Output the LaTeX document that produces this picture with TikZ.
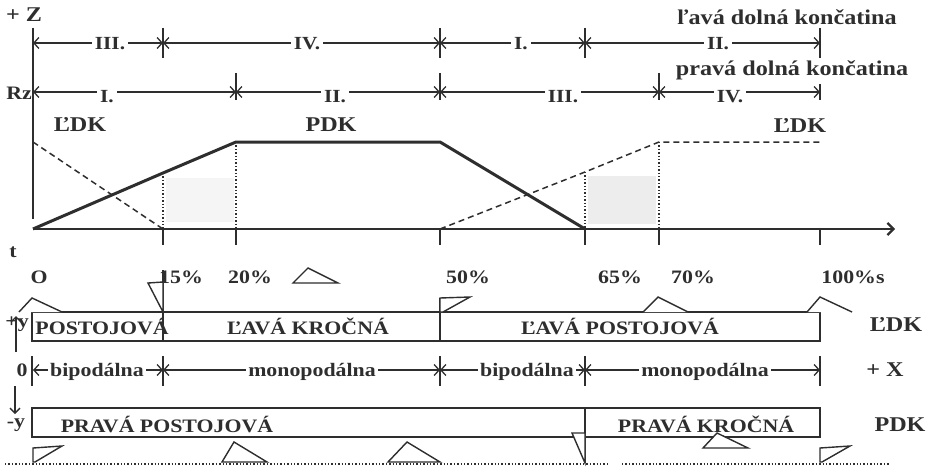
\documentclass[tikz,border=0pt]{standalone}
\usepackage{fontspec}
\setmainfont{Liberation Serif}[FakeStretch=1.15]
\usetikzlibrary{arrows.meta}
\definecolor{ink}{HTML}{2E2E2E}
\newcommand{\fbig}{\bfseries\fontsize{21}{23}\selectfont}
\newcommand{\fmid}{\bfseries\fontsize{19}{21}\selectfont}
\newcommand{\fnum}{\bfseries\fontsize{18.5}{20}\selectfont}
\begin{document}
\begin{tikzpicture}[x=1pt,y=-1pt,
  ink,
  barb/.tip={Straight Barb[length=5pt,width=11pt,line width=1.3pt]},
  axisline/.style={draw=ink, line width=2.2pt},
  graphline/.style={draw=ink, line width=3pt, line join=round},
  dashline/.style={draw=ink, line width=1.5pt, dash pattern=on 6pt off 4pt},
  dotline/.style={draw=ink, line width=1.4pt, dotted},
  dimline/.style={draw=ink, line width=1.4pt, barb-barb},
  tickline/.style={draw=ink, line width=1.4pt},
  lbl/.style={text=ink, inner sep=0pt, font=\fbig},
  pct/.style={text=ink, inner sep=0pt, font=\fmid},
  numlbl/.style={text=ink, fill=white, inner sep=3pt, font=\fnum},
  barlbl/.style={text=ink, inner sep=0pt, font=\fmid},
  phase/.style={text=ink, fill=white, inner sep=2pt, font=\fmid},
  bar/.style={draw=ink, line width=1.4pt},
  foot/.style={draw=ink, line width=1.4pt, fill=white, line join=miter},
  shade/.style={fill=black!4, draw=none}
]
\useasboundingbox (0,0) rectangle (933,468);

% ---------------- coordinates ----------------
\coordinate (ZT) at (33,28);
\coordinate (ZB) at (33,219);
\coordinate (O) at (33,229);
\coordinate (AE) at (895,229);
\coordinate (P1) at (163,173);
\coordinate (P2) at (236,142);
\coordinate (P3) at (440,142);
\coordinate (P4) at (585,229);
\coordinate (D0) at (33,142);
\coordinate (D1) at (163,229);
\coordinate (D2) at (440,229);
\coordinate (D3) at (585,172);
\coordinate (D4) at (659,142);
\coordinate (D5) at (820,142);

% ---------------- shaded stipple areas ----------------
\fill[shade] (166,178) rectangle (234,222);
\fill[black!7] (588,176) rectangle (656,224);

% ---------------- graph ----------------
\draw[axisline] (ZT) -- (ZB);
\draw[axisline, -{Straight Barb[length=6pt,width=12pt]}] (O) -- (AE);
\foreach \x in {163,236,440,585,659,820}
  \draw[tickline, line width=1.8pt] (\x,229) -- (\x,245);
\draw[graphline] (O) -- (P1) -- (P2) -- (P3) -- (P4);
\draw[dashline] (D0) -- (D1);
\draw[dashline] (D2) -- (D3) -- (D4) -- (D5);
\draw[dotline] (P1) -- (D1);
\draw[dotline] (P2) -- (236,229);
\draw[dotline] (D3) -- (P4);
\draw[dotline] (D4) -- (659,229);

% ---------------- phase rows (top) ----------------
\coordinate (r1a) at (33,43);
\coordinate (r1b) at (163,43);
\coordinate (r1c) at (440,43);
\coordinate (r1d) at (585,43);
\coordinate (r1e) at (820,43);
\foreach \x in {163,440,585,820} \draw[tickline] (\x,28) -- (\x,58);
\draw[dimline] (r1a) -- (r1b);
\draw[dimline] (r1b) -- (r1c);
\draw[dimline] (r1c) -- (r1d);
\draw[dimline] (r1d) -- (r1e);
\node[numlbl] (n1) at (110,44) {III.};
\node[numlbl] (n2) at (307,44) {IV.};
\node[numlbl] (n3) at (521,44) {I.};
\node[numlbl] (n4) at (718,44) {II.};

\coordinate (r2a) at (33,92);
\coordinate (r2b) at (236,92);
\coordinate (r2c) at (440,92);
\coordinate (r2d) at (659,92);
\coordinate (r2e) at (820,92);
\foreach \x in {236,440,659} \draw[tickline] (\x,73) -- (\x,100);
\draw[tickline] (820,84) -- (820,100);
\draw[dimline] (r2a) -- (r2b);
\draw[dimline] (r2b) -- (r2c);
\draw[dimline] (r2c) -- (r2d);
\draw[dimline] (r2d) -- (r2e);
\node[numlbl] (m1) at (107,97) {I.};
\node[numlbl] (m2) at (335,97) {II.};
\node[numlbl] (m3) at (563,97) {III.};
\node[numlbl] (m4) at (730,97) {IV.};

\node[lbl] (plusZ) at (24,15) {+ Z};
\node[pct] (Rz) at (19,93) {Rz};
\node[lbl] (lavaDK) at (787,17) {ľavá dolná končatina};
\node[lbl] (pravaDK) at (792,70) {pravá dolná končatina};
\node[lbl] (LDK1) at (80,125) {ĽDK};
\node[lbl] (PDK1) at (331,125) {PDK};
\node[lbl] (LDK2) at (800,126) {ĽDK};

% ---------------- axis labels ----------------
\node[pct] (tl) at (13,252) {t};
\node[pct] (p0) at (39,277) {O};
\node[pct] (p15) at (181,277) {15\%};
\node[pct] (p20) at (250,277) {20\%};
\node[pct] (p50) at (468,277) {50\%};
\node[pct] (p65) at (620,277) {65\%};
\node[pct] (p70) at (693,277) {70\%};
\node[pct] (p100) at (853,277) {100\%s};

% ---------------- bars ----------------
\draw[bar] (32,312) rectangle (820,341);
\draw[bar] (163,270) -- (163,341);
\draw[bar] (440,298) -- (440,341);
\node[barlbl] (b1) at (102,326) {POSTOJOVÁ};
\node[barlbl] (b2) at (308,326) {ĽAVÁ KROČNÁ};
\node[barlbl] (b3) at (620,326) {ĽAVÁ POSTOJOVÁ};
\node[lbl] (LDK3) at (896,325) {ĽDK};

\draw[bar] (32,408) rectangle (820,437);
\draw[bar] (585,408) -- (585,463);
\node[barlbl] (b4) at (167,424) {PRAVÁ POSTOJOVÁ};
\node[barlbl] (b5) at (706,424) {PRAVÁ KROČNÁ};
\node[lbl] (PDK2) at (900,425) {PDK};

% ---------------- support phases ----------------
\coordinate (s0) at (33,370);
\coordinate (s1) at (163,370);
\coordinate (s2) at (440,370);
\coordinate (s3) at (585,370);
\coordinate (s4) at (820,370);
\foreach \x in {32,163,440,585,820} \draw[tickline] (\x,356) -- (\x,386);
\draw[dimline] (s0) -- (s1);
\draw[dimline] (s1) -- (s2);
\draw[dimline] (s2) -- (s3);
\draw[dimline] (s3) -- (s4);
\node[phase] (q1) at (97,372) {bipodálna};
\node[phase] (q2) at (312,372) {monopodálna};
\node[phase] (q3) at (527,372) {bipodálna};
\node[phase] (q4) at (705,372) {monopodálna};
\node[lbl] (plusX) at (885,370) {+ X};

% y axis marks
\coordinate (yu0) at (16,352);
\coordinate (yu1) at (16,316);
\coordinate (yd0) at (15,386);
\coordinate (yd1) at (15,414);
\draw[tickline, -{Straight Barb[length=5pt,width=10pt]}] (yu0) -- (yu1);
\draw[tickline, -{Straight Barb[length=5pt,width=10pt]}] (yd0) -- (yd1);
\node[pct] (py) at (17,324) {+y};
\node[pct] (zero) at (22,370) {0};
\node[pct] (my) at (16,425) {-y};

% ---------------- feet ----------------
\draw[foot] (19,312) -- (32,298) -- (62,312);
\draw[foot] (148,283) -- (163,282) -- (163,312) -- cycle;
\draw[foot] (293,283) -- (308,268) -- (338,283) -- cycle;
\draw[foot] (440,298) -- (470,297) -- (443,312) -- (440,312) -- cycle;
\draw[foot] (643,312) -- (658,297) -- (688,312);
\draw[foot] (807,312) -- (820,297) -- (852,312);

\draw[foot] (33,448) -- (62,446) -- (35,462) -- (33,462) -- cycle;
\draw[foot] (222,462) -- (234,442) -- (267,462) -- cycle;
\draw[foot] (388,462) -- (407,442) -- (440,462) -- cycle;
\draw[foot] (572,433) -- (585,433) -- (585,463) -- cycle;
\draw[foot] (703,448) -- (717,433) -- (748,448) -- cycle;
\draw[foot] (820,448) -- (850,446) -- (822,462) -- (820,462) -- cycle;

\draw[dotline, line width=1.1pt] (5,464) -- (610,464);
\draw[dotline, line width=1.1pt] (622,464) -- (890,464);
\end{tikzpicture}
\end{document}
